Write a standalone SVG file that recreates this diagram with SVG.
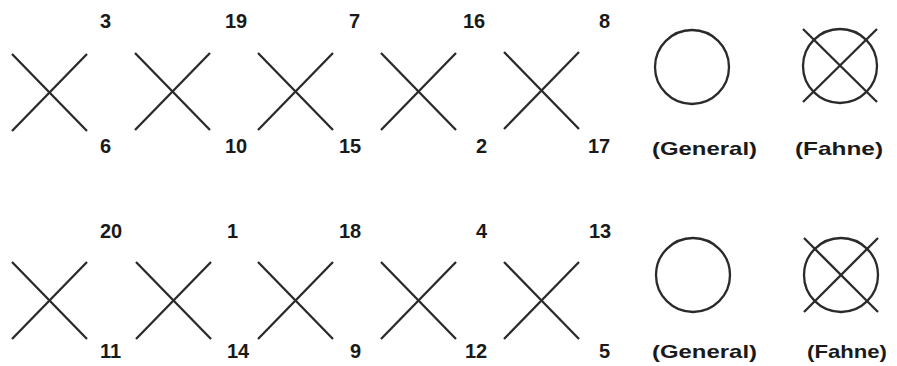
<svg xmlns="http://www.w3.org/2000/svg" width="897" height="366" viewBox="0 0 897 366">
<style>
.ln{stroke:#2a2a2a;stroke-width:2.3;stroke-linecap:butt;fill:none}
.num{font-family:"Liberation Sans",Arial,sans-serif;font-weight:bold;font-size:20px;fill:#1a1a1a}
.lbl{font-family:"Liberation Sans",Arial,sans-serif;font-weight:bold;font-size:19px;fill:#1a1a1a}
</style>
<rect width="897" height="366" fill="#ffffff"/>
<defs>
<g id="xm"><line class="ln" x1="0" y1="0" x2="75" y2="77"/><line class="ln" x1="0" y1="77" x2="75" y2="0"/></g>
</defs>
<g id="row1">
<g id="x1a"><use href="#xm" x="12" y="54"/><text class="num" x="100" y="28">3</text><text class="num" x="100" y="153">6</text></g>
<g id="x2a"><use href="#xm" x="135" y="53"/><text class="num" x="225" y="28">19</text><text class="num" x="225" y="153">10</text></g>
<g id="x3a"><use href="#xm" x="258" y="53"/><text class="num" x="349" y="28">7</text><text class="num" x="339" y="153">15</text></g>
<g id="x4a"><use href="#xm" x="381" y="53"/><text class="num" x="463" y="28">16</text><text class="num" x="476" y="153">2</text></g>
<g id="x5a"><use href="#xm" x="504" y="52"/><text class="num" x="599" y="28">8</text><text class="num" x="588" y="153">17</text></g>
<g id="gen1"><circle class="ln" cx="692" cy="67" r="37"/><text class="lbl" x="652" y="155" textLength="105" lengthAdjust="spacingAndGlyphs">(General)</text></g>
<g id="fah1"><circle class="ln" cx="840" cy="66" r="37"/><line class="ln" x1="803" y1="29" x2="877" y2="102"/><line class="ln" x1="877" y1="29" x2="803" y2="102"/><text class="lbl" x="795" y="155" textLength="88" lengthAdjust="spacingAndGlyphs">(Fahne)</text></g>
</g>
<g id="row2">
<g id="x1b"><use href="#xm" x="12" y="262"/><text class="num" x="100" y="238">20</text><text class="num" x="100" y="358">11</text></g>
<g id="x2b"><use href="#xm" x="136" y="262"/><text class="num" x="227" y="238">1</text><text class="num" x="227" y="358">14</text></g>
<g id="x3b"><use href="#xm" x="258" y="262"/><text class="num" x="339" y="238">18</text><text class="num" x="350" y="358">9</text></g>
<g id="x4b"><use href="#xm" x="381" y="262"/><text class="num" x="476" y="238">4</text><text class="num" x="465" y="358">12</text></g>
<g id="x5b"><use href="#xm" x="504" y="262"/><text class="num" x="589" y="238">13</text><text class="num" x="599" y="358">5</text></g>
<g id="gen2"><circle class="ln" cx="693" cy="275" r="37"/><text class="lbl" x="652" y="358" textLength="105" lengthAdjust="spacingAndGlyphs">(General)</text></g>
<g id="fah2"><circle class="ln" cx="841" cy="275" r="37"/><line class="ln" x1="804" y1="238" x2="878" y2="312"/><line class="ln" x1="878" y1="238" x2="804" y2="312"/><text class="lbl" x="807" y="358" textLength="80" lengthAdjust="spacingAndGlyphs">(Fahne)</text></g>
</g>
</svg>
